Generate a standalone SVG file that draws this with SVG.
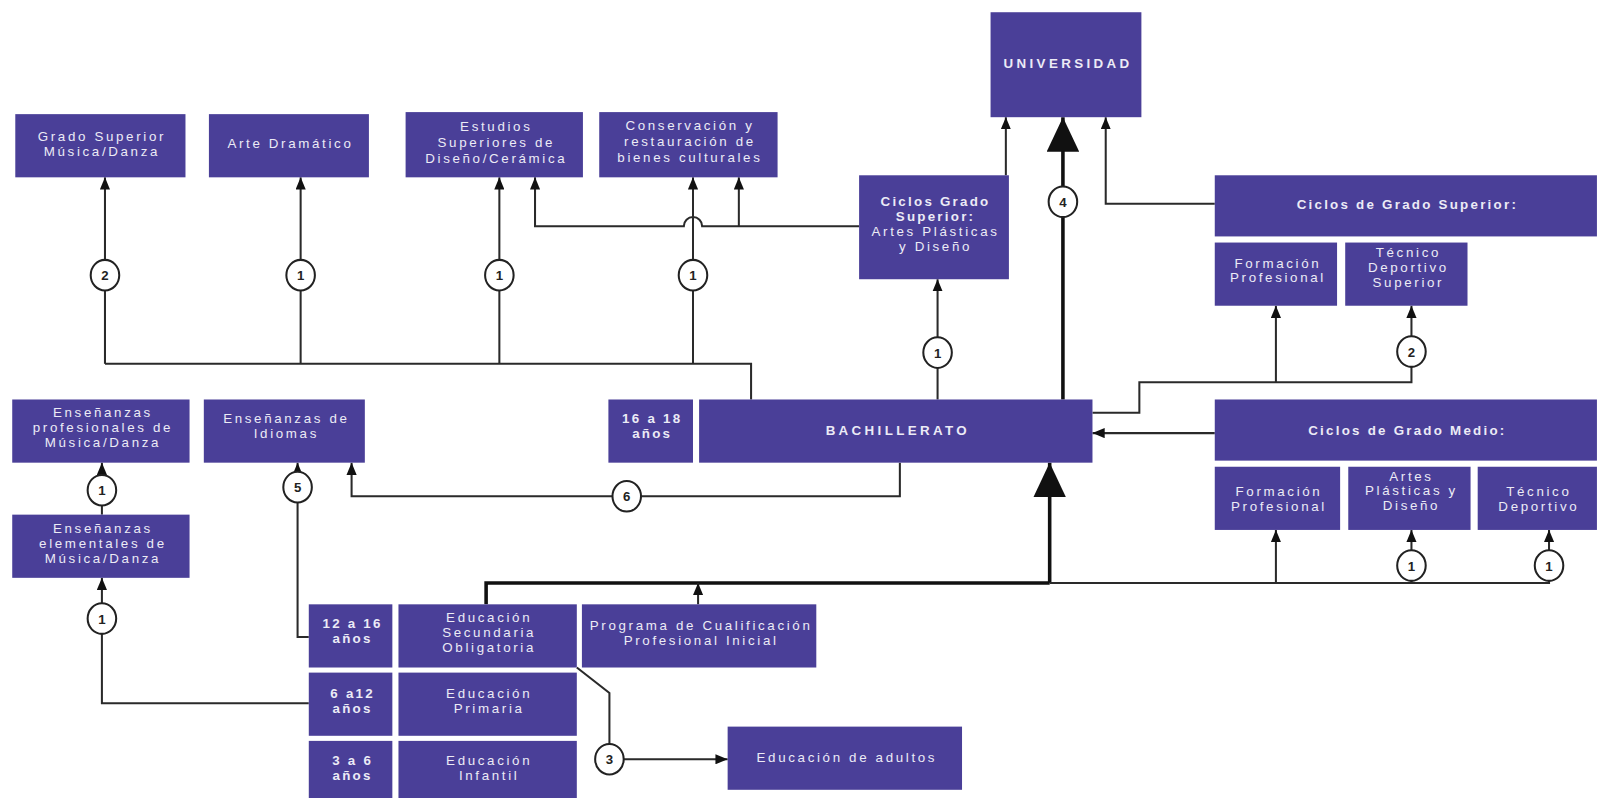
<svg xmlns="http://www.w3.org/2000/svg" width="1598" height="798" viewBox="0 0 1598 798">
<style>
.b{fill:#4a3f98}
.t{fill:#ecebf6;font-family:"Liberation Sans",Arial,sans-serif;font-size:13.1px;letter-spacing:2.6px;text-anchor:middle}
.tb{font-weight:bold;letter-spacing:2.2px}
.tc{letter-spacing:3.3px}
.ln{fill:none;stroke:#2a2a2a;stroke-width:2}
.th{fill:none;stroke:#111;stroke-width:3.5}
.c{fill:#fff;stroke:#222;stroke-width:2}
.cl{fill:#222;font-family:"Liberation Sans",Arial,sans-serif;font-size:13px;font-weight:bold;text-anchor:middle}
</style>
<defs>
<marker id="a" viewBox="0 0 12 10" refX="12" refY="5" markerWidth="12" markerHeight="10" markerUnits="userSpaceOnUse" orient="auto"><path d="M0,0L12,5L0,10z" fill="#111"/></marker>
<marker id="A" viewBox="0 0 34 32" refX="34" refY="16" markerWidth="34" markerHeight="32" markerUnits="userSpaceOnUse" orient="auto"><path d="M0,0L34,16L0,32z" fill="#111"/></marker>
</defs>
<rect width="1598" height="798" fill="#fff"/>
<g transform="scale(1.0191)">
<g id="connectors">
<path class="ln" d="M103,357H737V392"/>
<path class="ln" d="M103,357V174" marker-end="url(#a)"/>
<path class="ln" d="M295,357V174" marker-end="url(#a)"/>
<path class="ln" d="M490,357V174" marker-end="url(#a)"/>
<path class="ln" d="M680,357V174" marker-end="url(#a)"/>
<path class="ln" d="M843,222H689A9,9 0 0 0 671,222H525V174" marker-end="url(#a)"/>
<path class="ln" d="M725,222V174" marker-end="url(#a)"/>
<path class="ln" d="M987,172V115" marker-end="url(#a)"/>
<path class="ln" d="M920,392V274" marker-end="url(#a)"/>
<path class="th" d="M1043,392V115" marker-end="url(#A)"/>
<path class="ln" d="M1192,200H1085V115" marker-end="url(#a)"/>
<path class="ln" d="M1072,405H1118V375H1385V300" marker-end="url(#a)"/>
<path class="ln" d="M1252,375V300" marker-end="url(#a)"/>
<path class="ln" d="M1192,425H1072" marker-end="url(#a)"/>
<path class="ln" d="M883,454V487H345V454" marker-end="url(#a)"/>
<path class="th" d="M477,593V572H1030"/>
<path class="th" d="M1030,572V454" marker-end="url(#A)"/>
<path class="ln" d="M1030,572H1520V520" marker-end="url(#a)"/>
<path class="ln" d="M1252,572V520" marker-end="url(#a)"/>
<path class="ln" d="M1385,572V520" marker-end="url(#a)"/>
<path class="ln" d="M685,593V572" marker-end="url(#a)"/>
<path class="ln" d="M100,505V454" marker-end="url(#a)"/>
<path class="ln" d="M303,690H100V567" marker-end="url(#a)"/>
<path class="ln" d="M303,625H292V454" marker-end="url(#a)"/>
<path class="ln" d="M566,655L598,680V745H714" marker-end="url(#a)"/>
<g id="labels">
<ellipse class="c" cx="103" cy="270" rx="14" ry="15"/><text class="cl" x="103" y="275">2</text>
<ellipse class="c" cx="295" cy="270" rx="14" ry="15"/><text class="cl" x="295" y="275">1</text>
<ellipse class="c" cx="490" cy="270" rx="14" ry="15"/><text class="cl" x="490" y="275">1</text>
<ellipse class="c" cx="680" cy="270" rx="14" ry="15"/><text class="cl" x="680" y="275">1</text>
<ellipse class="c" cx="920" cy="346" rx="14" ry="15"/><text class="cl" x="920" y="351">1</text>
<ellipse class="c" cx="1043" cy="198" rx="14" ry="15"/><text class="cl" x="1043" y="203">4</text>
<ellipse class="c" cx="1385" cy="345" rx="14" ry="15"/><text class="cl" x="1385" y="350">2</text>
<ellipse class="c" cx="615" cy="487" rx="14" ry="15"/><text class="cl" x="615" y="492">6</text>
<ellipse class="c" cx="292" cy="478" rx="14" ry="15"/><text class="cl" x="292" y="483">5</text>
<ellipse class="c" cx="100" cy="481" rx="14" ry="15"/><text class="cl" x="100" y="486">1</text>
<ellipse class="c" cx="100" cy="607" rx="14" ry="15"/><text class="cl" x="100" y="612">1</text>
<ellipse class="c" cx="1385" cy="555" rx="14" ry="15"/><text class="cl" x="1385" y="560">1</text>
<ellipse class="c" cx="1520" cy="555" rx="14" ry="15"/><text class="cl" x="1520" y="560">1</text>
<ellipse class="c" cx="598" cy="745" rx="14" ry="15"/><text class="cl" x="598" y="750">3</text>
</g>
</g>

<g id="grado-superior-musica"><rect class="b" x="15" y="112" width="167" height="62"/><text class="t" x="100" y="138">Grado Superior<tspan x="100" dy="14.7">Música/Danza</tspan></text></g>
<g id="arte-dramatico"><rect class="b" x="205" y="112" width="157" height="62"/><text class="t" x="285" y="145">Arte Dramático</text></g>
<g id="estudios-superiores"><rect class="b" x="398" y="110" width="174" height="64"/><text class="t" x="487" y="129">Estudios<tspan x="487" dy="15.5">Superiores de</tspan><tspan x="487" dy="15.5">Diseño/Cerámica</tspan></text></g>
<g id="conservacion"><rect class="b" x="588" y="110" width="175" height="64"/><text class="t" x="677" y="128">Conservación y<tspan x="677" dy="15.5">restauración de</tspan><tspan x="677" dy="15.5">bienes culturales</tspan></text></g>
<g id="universidad"><rect class="b" x="972" y="12" width="148" height="103"/><text class="t tb tc" x="1048" y="67">UNIVERSIDAD</text></g>
<g id="ciclos-gs-artes"><rect class="b" x="843" y="172" width="147" height="102"/><text class="t" x="918" y="202"><tspan class="tb">Ciclos Grado</tspan><tspan class="tb" x="918" dy="14.7">Superior:</tspan><tspan x="918" dy="14.7">Artes Plásticas</tspan><tspan x="918" dy="14.7">y  Diseño</tspan></text></g>
<g id="ciclos-grado-superior"><rect class="b" x="1192" y="172" width="375" height="60"/><text class="t tb" x="1381" y="205">Ciclos  de Grado Superior:</text></g>
<g id="fp-superior"><rect class="b" x="1192" y="238" width="120" height="62"/><text class="t" x="1254" y="262.5">Formación<tspan x="1254" dy="14.7">Profesional</tspan></text></g>
<g id="tecnico-deportivo-superior"><rect class="b" x="1320" y="238" width="120" height="62"/><text class="t" x="1382" y="252.5">Técnico<tspan x="1382" dy="14.7">Deportivo</tspan><tspan x="1382" dy="14.7">Superior</tspan></text></g>
<g id="edad-16-18"><rect class="b" x="597" y="392" width="83" height="62"/><text class="t tb" x="640" y="415.5">16 a 18<tspan x="640" dy="14.7">años</tspan></text></g>
<g id="bachillerato"><rect class="b" x="686" y="392" width="386" height="62"/><text class="t tb tc" x="881" y="427">BACHILLERATO</text></g>
<g id="ciclos-grado-medio"><rect class="b" x="1192" y="392" width="375" height="60"/><text class="t tb" x="1381" y="427">Ciclos  de Grado Medio:</text></g>
<g id="fp-medio"><rect class="b" x="1192" y="458" width="123" height="62"/><text class="t" x="1255" y="486.5">Formación<tspan x="1255" dy="14.7">Profesional</tspan></text></g>
<g id="artes-plasticas-medio"><rect class="b" x="1323" y="458" width="120" height="62"/><text class="t" x="1385" y="471.5">Artes<tspan x="1385" dy="14.7">Plásticas y</tspan><tspan x="1385" dy="14.7">Diseño</tspan></text></g>
<g id="tecnico-deportivo"><rect class="b" x="1450" y="458" width="117" height="62"/><text class="t" x="1510" y="486.5">Técnico<tspan x="1510" dy="14.7">Deportivo</tspan></text></g>
<g id="ensenanzas-profesionales"><rect class="b" x="12" y="392" width="174" height="62"/><text class="t" x="101" y="409.5">Enseñanzas<tspan x="101" dy="14.7">profesionales de</tspan><tspan x="101" dy="14.7">Música/Danza</tspan></text></g>
<g id="ensenanzas-idiomas"><rect class="b" x="200" y="392" width="158" height="62"/><text class="t" x="281" y="415.5">Enseñanzas de<tspan x="281" dy="14.7">Idiomas</tspan></text></g>
<g id="ensenanzas-elementales"><rect class="b" x="12" y="505" width="174" height="62"/><text class="t" x="101" y="523.5">Enseñanzas<tspan x="101" dy="14.7">elementales de</tspan><tspan x="101" dy="14.7">Música/Danza</tspan></text></g>
<g id="edad-12-16"><rect class="b" x="303" y="593" width="82" height="62"/><text class="t tb" x="346" y="616.5">12 a 16<tspan x="346" dy="14.7">años</tspan></text></g>
<g id="eso"><rect class="b" x="391" y="593" width="175" height="62"/><text class="t" x="480" y="610.5">Educación<tspan x="480" dy="14.7">Secundaria</tspan><tspan x="480" dy="14.7">Obligatoria</tspan></text></g>
<g id="programa-cualificacion"><rect class="b" x="571" y="593" width="230" height="62"/><text class="t" x="688" y="618.5">Programa de Cualificación<tspan x="688" dy="14.7">Profesional Inicial</tspan></text></g>
<g id="edad-6-12"><rect class="b" x="303" y="660" width="82" height="62"/><text class="t tb" x="346" y="684.5">6 a12<tspan x="346" dy="14.7">años</tspan></text></g>
<g id="primaria"><rect class="b" x="391" y="660" width="175" height="62"/><text class="t" x="480" y="684.5">Educación<tspan x="480" dy="14.7">Primaria</tspan></text></g>
<g id="edad-3-6"><rect class="b" x="303" y="727" width="82" height="71"/><text class="t tb" x="346" y="750.5">3 a 6<tspan x="346" dy="14.7">años</tspan></text></g>
<g id="infantil"><rect class="b" x="391" y="727" width="175" height="71"/><text class="t" x="480" y="750.5">Educación<tspan x="480" dy="14.7">Infantil</tspan></text></g>
<g id="educacion-adultos"><rect class="b" x="714" y="713" width="230" height="62"/><text class="t" x="831" y="748">Educación de adultos</text></g>
</g>
</svg>
